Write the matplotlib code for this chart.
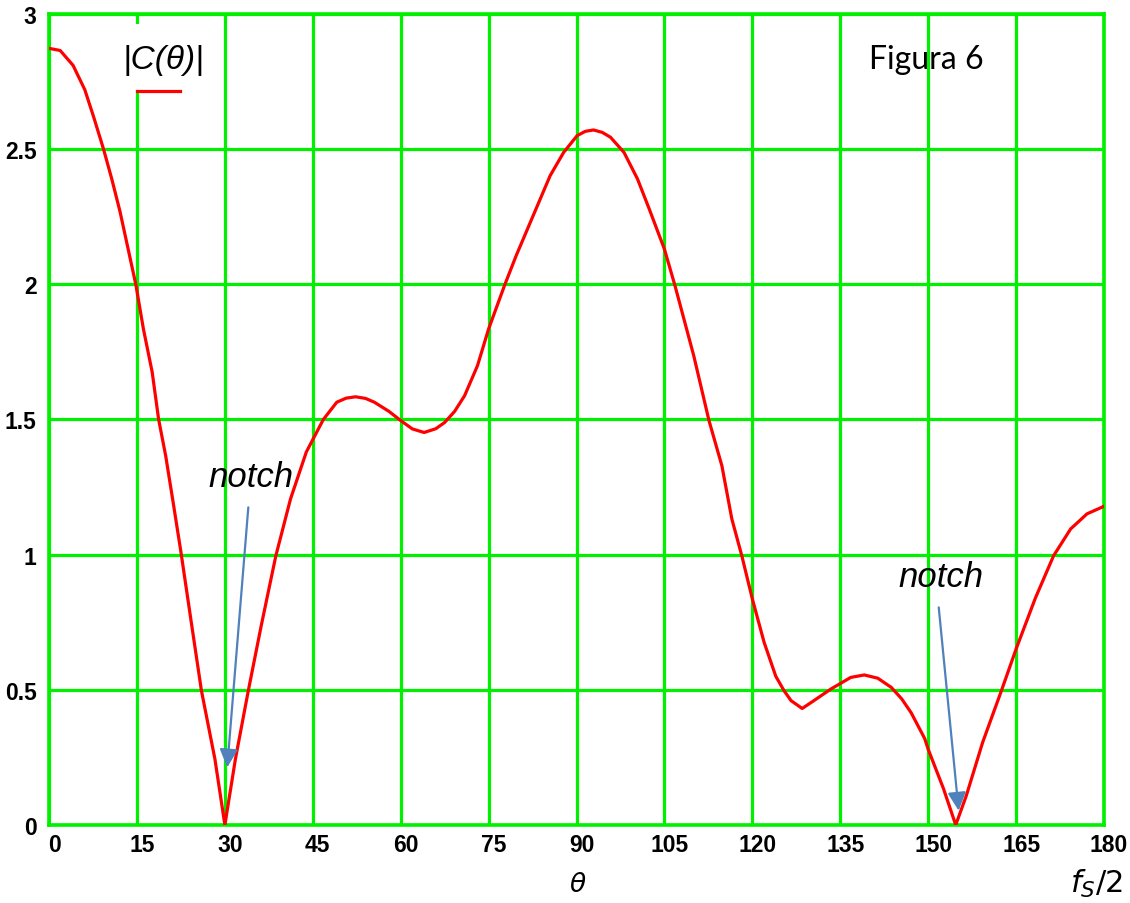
import matplotlib
matplotlib.use("Agg")
import matplotlib.pyplot as plt
import matplotlib.transforms as transforms
from matplotlib.patches import Rectangle
from matplotlib.lines import Line2D

plt.rcParams['font.family'] = ['Liberation Sans', 'DejaVu Sans']
plt.rcParams['mathtext.fontset'] = 'dejavusans'

GREEN = "#00f000"
ARROW = "#4f81bd"

# |C(theta)| (theta in degrees)
theta = [0, 1.9, 4.1, 6.1, 7.6, 9.3, 10.7, 12.1, 13.4, 14.8, 16.1, 17.6, 18.7,
         19.9, 21.2, 22.5, 24.2, 26.0, 28.3, 30.0, 31.8, 34.0, 36.2, 38.7,
         41.2, 43.9, 46.8, 49.1, 50.7, 52.3, 54.0, 55.5, 58.0, 60.0, 62.0,
         64.0, 66.0, 67.5, 69.2, 70.9, 73.1, 75.0, 77.7, 79.7, 82.6, 85.5,
         87.8, 90.1, 91.5, 92.9, 94.4, 95.8, 98.1, 100.4, 102.4, 105.0, 106.8,
         110.0, 112.6, 114.8, 116.5, 118.2, 120.0, 122.0, 124.0, 125.4, 126.6,
         128.5, 130.5, 133.4, 136.8, 139.1, 141.4, 143.7, 145.5, 147.1, 149.4,
         150.0, 152.6, 154.7, 156.5, 159.3, 162.5, 165.0, 168.3, 171.4, 174.3,
         177.1, 180.0]
mag = [2.873, 2.865, 2.81, 2.72, 2.62, 2.50, 2.39, 2.27, 2.14, 2.00, 1.835,
       1.675, 1.50, 1.366, 1.19, 1.01, 0.76, 0.497, 0.244, 0.0, 0.244, 0.497,
       0.737, 0.996, 1.206, 1.38, 1.50, 1.564, 1.579, 1.584, 1.578, 1.564,
       1.53, 1.496, 1.465, 1.452, 1.466, 1.489, 1.53, 1.588, 1.699, 1.835,
       1.995, 2.106, 2.254, 2.402, 2.488, 2.55, 2.566, 2.571, 2.562, 2.544,
       2.488, 2.39, 2.279, 2.13, 1.995, 1.736, 1.496, 1.329, 1.132, 0.996,
       0.836, 0.676, 0.55, 0.497, 0.46, 0.431, 0.46, 0.503, 0.546, 0.555,
       0.543, 0.509, 0.466, 0.415, 0.32, 0.28, 0.135, 0.0, 0.108, 0.306,
       0.497, 0.651, 0.84, 0.996, 1.095, 1.151, 1.179]

x_ticks = list(range(0, 181, 15))
y_ticks = [0, 0.5, 1, 1.5, 2, 2.5, 3]
y_tick_labels = ["0", "0.5", "1", "1.5", "2", "2.5", "3"]

# notch markers: arrow tail, arrow tip, label
notch_tail = [(34.0, 1.175), (151.8, 0.805)]
notch_tip = [(30.4, 0.213), (155.2, 0.053)]
notch_label = [(34.4, 1.29), (152.1, 0.92)]

fig = plt.figure(figsize=(11.3, 9.04), dpi=100)
ax = fig.add_axes([0.0434, 0.0863, 0.9336, 0.8971])

ax.plot(theta, mag, color="red", lw=2.3, zorder=3)
ax.set_xlim(0, 180)
ax.set_ylim(0, 3)
ax.set_xticks(x_ticks)
ax.set_yticks(y_ticks, y_tick_labels)
ax.grid(True, color=GREEN, lw=2.3)
for s in ax.spines.values():
    s.set_color(GREEN)
    s.set_linewidth(2.6)
ax.tick_params(length=0, labelsize=16.5)
ax.tick_params(axis="x", pad=6)
ax.tick_params(axis="y", pad=9)
for lab in ax.get_xticklabels() + ax.get_yticklabels():
    lab.set_fontweight("bold")
shift = transforms.ScaledTranslation(5 / 100, 0, fig.dpi_scale_trans)
for lab in ax.get_xticklabels():
    lab.set_transform(lab.get_transform() + shift)

# legend block, drawn by hand
ax.add_patch(Rectangle((0.056, 0.906), 0.102, 0.082, transform=ax.transAxes,
                       fc="white", ec="none", zorder=2.5))
ax.text(0.108, 0.944, "|C(θ)|", transform=ax.transAxes, ha="center", va="center",
        fontsize=24, fontstyle="italic", zorder=4)
ax.add_line(Line2D([0.0834, 0.124], [0.905, 0.905], transform=ax.transAxes,
                   color="red", lw=2.3, zorder=4))

ax.text(0.832, 0.944, "Figura 6", transform=ax.transAxes, ha="center",
        va="center", fontsize=23, family=["Lato", "DejaVu Sans"], zorder=4)

for (tx, ty), (hx, hy), (lx, ly) in zip(notch_tail, notch_tip, notch_label):
    ax.annotate("", xy=(hx, hy), xytext=(tx, ty),
                arrowprops=dict(arrowstyle="-|>,head_length=1.1,head_width=0.55",
                                color=ARROW, lw=1.6, shrinkA=0, shrinkB=0,
                                mutation_scale=10), zorder=5)
    ax.text(lx, ly, "notch", ha="center", va="center", fontsize=25,
            fontstyle="italic", zorder=5)

fig.text(578 / 1130, 1 - 885 / 904, r"$\theta$", ha="center", va="center",
         fontsize=19)
fig.text(1096 / 1130, 1 - 884 / 904, r"$f_S/2$", ha="center", va="center",
         fontsize=22, fontstyle="italic")

fig.savefig("out.png", dpi=100)
